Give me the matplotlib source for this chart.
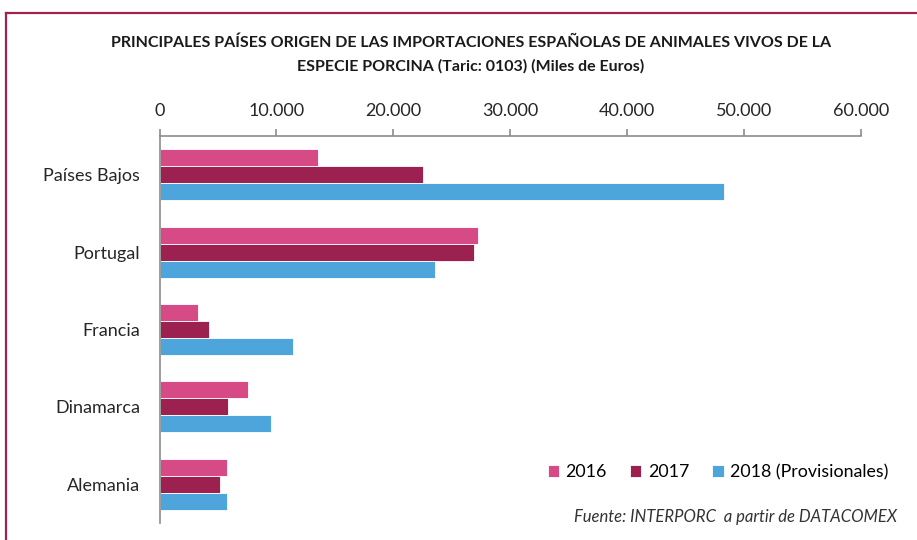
import matplotlib.pyplot as plt
from matplotlib.lines import Line2D
from matplotlib.ticker import FuncFormatter
import numpy as np

paises = ['Países Bajos', 'Portugal', 'Francia', 'Dinamarca', 'Alemania']
v2016 = [13560, 27270, 3310, 7600, 5770]
v2017 = [22560, 26910, 4260, 5890, 5200]
v2018 = [48290, 23570, 11420, 9560, 5770]
series = ['2016', '2017', '2018 (Provisionales)']
colores = ['#D64B85', '#9C2150', '#4EA5DB']

W, H = 917, 540
fig = plt.figure(figsize=(W / 100, H / 100), dpi=100)

# marco exterior
borde = '#A0234F'
fig.add_artist(Line2D([6 / W, 1.01], [1 - 13 / H, 1 - 13 / H], color=borde, lw=1.6,
                      transform=fig.transFigure))
fig.add_artist(Line2D([6 / W, 6 / W], [1 - 13 / H, -0.01], color=borde, lw=1.6,
                      transform=fig.transFigure))

tfont = 'Lato'
fig.text(471 / W, 1 - 43 / H,
         'PRINCIPALES PAÍSES ORIGEN DE LAS IMPORTACIONES ESPAÑOLAS DE ANIMALES VIVOS DE LA',
         ha='center', va='center', fontsize=11.5, fontweight='bold', family=tfont, color='#1a1a1a')
fig.text(471 / W, 1 - 66 / H, 'ESPECIE PORCINA (Taric: 0103) (Miles de Euros)',
         ha='center', va='center', fontsize=11.5, fontweight='bold', family=tfont, color='#1a1a1a')

ax = fig.add_axes([159.5 / W, 1 - 523 / H, 701.5 / W, 387 / H])
y = np.arange(len(paises))
h = 0.22
for i, (vals, lab, col) in enumerate(zip([v2016, v2017, v2018], series, colores)):
    ax.barh(y + (i - 1) * h, vals, height=h, color=col, edgecolor='white',
            linewidth=0.6, label=lab)

ax.set_xlim(0, 60000)
ax.set_ylim(len(paises) - 0.5, -0.5)
ax.set_yticks(y)
ax.set_yticklabels(paises)
ax.set_xticks(np.arange(0, 60001, 10000))
ax.xaxis.set_major_formatter(FuncFormatter(lambda v, p: f'{int(v):,}'.replace(',', '.')))
ax.xaxis.tick_top()

for s in ['right', 'bottom']:
    ax.spines[s].set_visible(False)
for s in ['top', 'left']:
    ax.spines[s].set_color('#8c8c8c')
    ax.spines[s].set_linewidth(1.2)

ax.tick_params(axis='x', direction='out', length=5, width=1.2, color='#8c8c8c',
               labelsize=13, labelcolor='#262626', pad=7)
ax.tick_params(axis='y', length=0, labelsize=13, labelcolor='#262626', pad=14)
for t in ax.get_xticklabels() + ax.get_yticklabels():
    t.set_family('Lato')

fig.legend(loc='center', bbox_to_anchor=(718 / W, 1 - 472 / H), ncol=3, frameon=False,
           handlelength=0.65, handleheight=0.65, handletextpad=0.35, columnspacing=1.3,
           prop={'family': 'Lato', 'size': 12.8})

fig.text(897 / W, 1 - 517 / H, 'Fuente: INTERPORC  a partir de DATACOMEX', ha='right',
         va='center', fontsize=12, style='italic', family='Lato', color='#333333')

fig.savefig('out.png', dpi=100)
